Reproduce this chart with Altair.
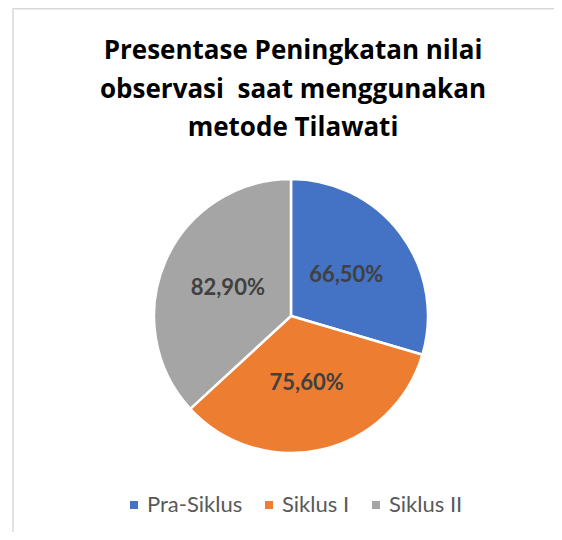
import altair as alt
import pandas as pd

categories = ["Pra-Siklus", "Siklus I", "Siklus II"]
values = [66.5, 75.6, 82.9]
labels = ["66,50%", "75,60%", "82,90%"]
colors = ["#4472C4", "#ED7D31", "#A5A5A5"]
order_idx = [0, 1, 2]
title_lines = ["Presentase Peningkatan nilai", "observasi\u00a0 saat menggunakan", "metode Tilawati"]

df = pd.DataFrame({"kategori": categories, "nilai": values, "label": labels, "urut": order_idx})

W, H = 546, 524
CX, CY, R = 283, 308, 137
FONT = "Lato"

base = alt.Chart(df).encode(
    theta=alt.Theta("nilai:Q", stack=True),
    order=alt.Order("urut:Q"),
)

arcs = base.mark_arc(outerRadius=R, stroke="white", strokeWidth=2.5).encode(
    color=alt.Color(
        "kategori:N",
        scale=alt.Scale(domain=categories, range=colors),
        sort=categories,
        legend=alt.Legend(
            orient="none", legendX=115, legendY=486, direction="horizontal",
            title=None, symbolType="square", symbolSize=64, symbolStrokeWidth=0,
            labelFontSize=22, labelFont=FONT, labelColor="#595959",
            columnPadding=15, labelOffset=2, padding=0,
        ),
    ),
    x=alt.value(CX), y=alt.value(CY),
)

text = base.mark_text(radius=69, fontSize=22, fontWeight="bold", color="#404040", font=FONT).encode(
    text="label:N", x=alt.value(CX), y=alt.value(CY)
)

border_left = alt.Chart(alt.Data(values=[{}])).mark_rule(color="#d9d9d9", strokeWidth=1.5).encode(
    x=alt.value(5), y=alt.value(0), y2=alt.value(H)
)
border_top = alt.Chart(alt.Data(values=[{}])).mark_rule(color="#d9d9d9", strokeWidth=1.5).encode(
    x=alt.value(5), x2=alt.value(W), y=alt.value(0.75)
)

chart = alt.layer(border_left, border_top, arcs, text).properties(
    width=W, height=H,
    autosize=alt.AutoSizeParams(type="none"),
    padding=0,
    title=alt.TitleParams(
        text=title_lines, fontSize=26, font="Open Sans", fontWeight="bold", color="#000000",
        anchor="middle", frame="group", lineHeight=38.5, baseline="top", offset=0, dy=134, dx=12,
    ),
).configure_view(stroke=None)

chart.save("out.html", embed_options={"renderer": "svg", "actions": False})
